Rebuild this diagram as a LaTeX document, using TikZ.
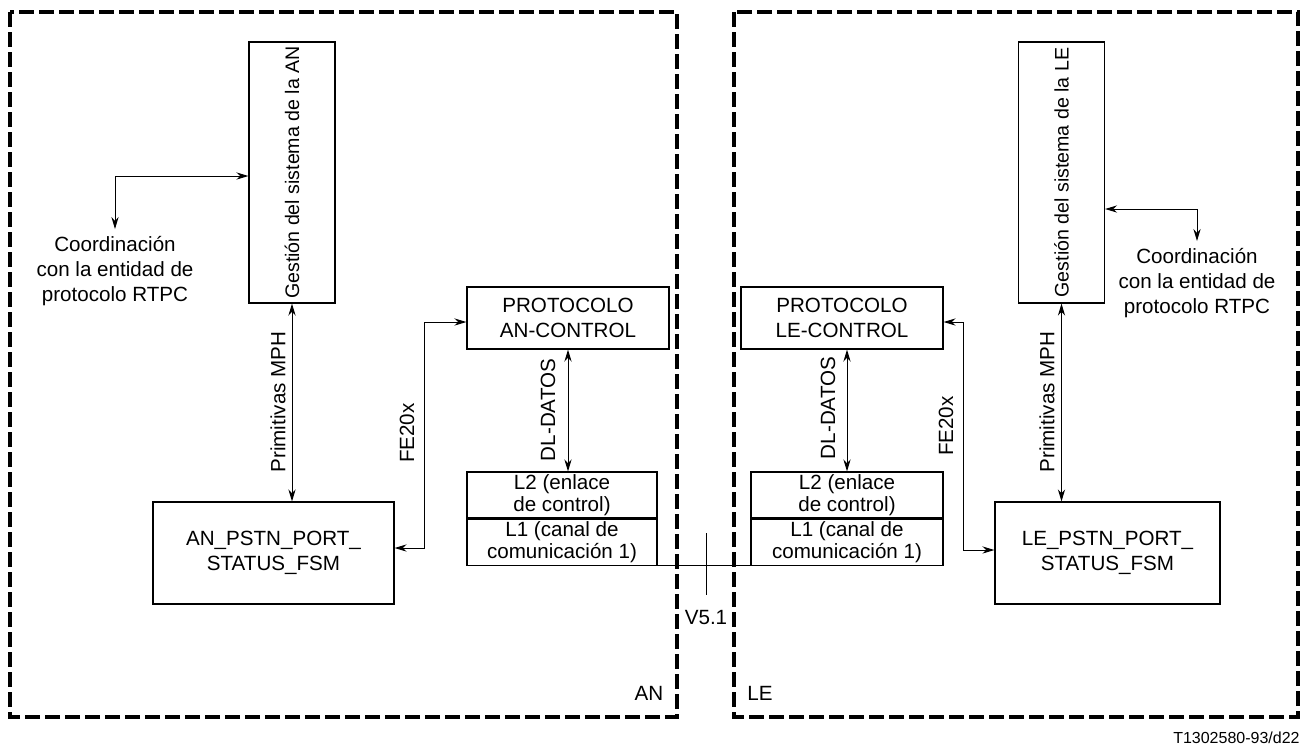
\documentclass[tikz,border=0pt]{standalone}
\usepackage{fontspec}
\setmainfont{Liberation Sans}
\usepackage{graphicx}
\usetikzlibrary{arrows.meta,positioning}

\begin{document}
\begin{tikzpicture}[
    x=0.5pt, y=-0.5pt,
    font=\fontsize{10.3}{12.6}\selectfont,
    box/.style={draw, line width=0.6pt, align=center, inner sep=0pt},
    layerbox/.style={box, font=\fontsize{10.3}{11}\selectfont},
    zone/.style={draw, line width=1.65pt, dash pattern=on 7.5pt off 2.5pt},
    biarr/.style={{Stealth[length=6pt,width=3.6pt]}-{Stealth[length=6pt,width=3.6pt]}, line width=0.5pt},
    lbl/.style={rotate=90, inner sep=1pt}
]
\useasboundingbox (0,0) rectangle (1308,746);
\draw[zone] (10,12) rectangle (677,717);
\draw[zone] (734,12) rectangle (1298,717);

\node[box, minimum width=43pt, minimum height=130.5pt, font=\fontsize{9.8}{12}\selectfont] (anmg) at (292,172.5) {\rotatebox{90}{Gestión del sistema de la AN}};
\node[box, minimum width=43pt, minimum height=130.5pt, font=\fontsize{9.8}{12}\selectfont] (lemg) at (1061.5,172.5) {\rotatebox{90}{Gestión del sistema de la LE}};

\node[box, minimum width=101pt, minimum height=31pt] (anprot) at (568,318) {PROTOCOLO\\AN-CONTROL};
\node[box, minimum width=101pt, minimum height=31pt] (leprot) at (842,318) {PROTOCOLO\\LE-CONTROL};

\node[layerbox, minimum width=95pt, minimum height=23pt] (anl2) at (562,495) {L2 (enlace\\de control)};
\node[layerbox, minimum width=95pt, minimum height=23pt, below=0pt of anl2] (anl1) {L1 (canal de\\comunicación 1)};
\node[layerbox, minimum width=96pt, minimum height=23pt] (lel2) at (847,495) {L2 (enlace\\de control)};
\node[layerbox, minimum width=96pt, minimum height=23pt, below=0pt of lel2] (lel1) {L1 (canal de\\comunicación 1)};

\node[box, minimum width=120.5pt, minimum height=51pt] (anpstn) at (273.5,553) {AN\_PSTN\_PORT\_\\STATUS\_FSM};
\node[box, minimum width=112.5pt, minimum height=51pt] (lepstn) at (1107.5,553) {LE\_PSTN\_PORT\_\\STATUS\_FSM};

\node[align=center] (anco) at (115,271) {Coordinación\\con la entidad de\\protocolo RTPC};
\node[align=center] (leco) at (1197,283) {Coordinación\\con la entidad de\\protocolo RTPC};
\coordinate (ancoj) at (115,176);
\coordinate (lecoj) at (1197,209);

\draw[biarr] (anco.north) -- (ancoj) -- (anmg.west |- ancoj);
\draw[biarr] (lemg.east |- lecoj) -- (lecoj) -- (leco.north);
\draw[biarr] (anmg.south) -- (anmg.south |- anpstn.north);
\draw[biarr] (lemg.south) -- (lemg.south |- lepstn.north);
\draw[biarr] (anprot.south) -- (anprot.south |- anl2.north);
\draw[biarr] (lel2.north |- leprot.south) -- (lel2.north);
\draw[biarr] (anprot.west |- 0,322) -| (424,548) -- (anpstn.east |- 0,548);
\draw[biarr] (leprot.east |- 0,322) -| (963,550) -- (lepstn.west |- 0,550);
\draw[line width=0.6pt] (anl1.south east) -- (lel1.south west);

\node[lbl] (anmph) at (278,402) {Primitivas MPH};
\node[lbl] (lemph) at (1047,402) {Primitivas MPH};
\node[lbl] (anfe) at (407,433) {FE20x};
\node[lbl] (lefe) at (946,426) {FE20x};
\node[lbl] (andl) at (548,410) {DL-DATOS};
\node[lbl] (ledl) at (828,408) {DL-DATOS};

\node (v51) at (706,618) {V5.1};
\coordinate (v51top) at (706,533);
\draw[line width=0.5pt] (v51top) -- ++(0,62);

\node (anlbl) at (649,693) {AN};
\node (lelbl) at (760,693) {LE};
\node[anchor=east, inner sep=0pt, font=\fontsize{8}{9.6}\selectfont] (figid) at (1300,738) {T1302580-93/d22};
\end{tikzpicture}
\end{document}
